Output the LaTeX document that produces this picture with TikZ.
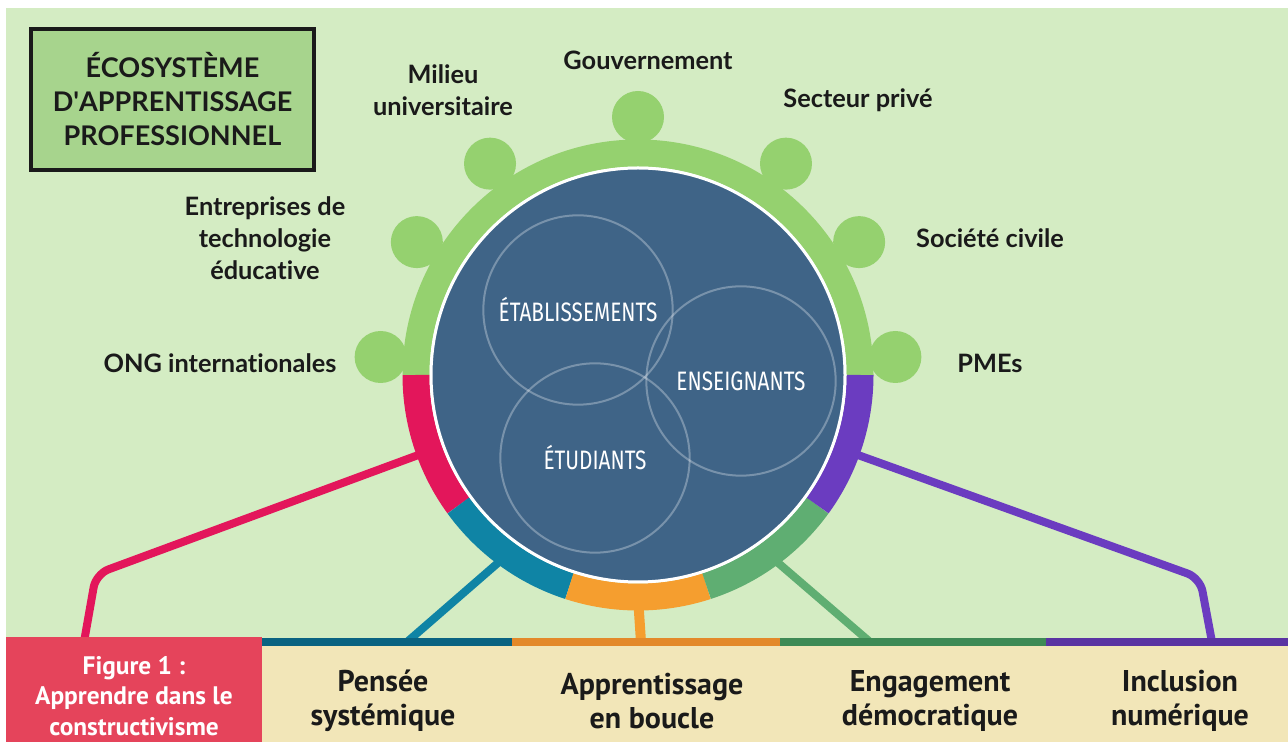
\documentclass[tikz,border=0pt]{standalone}
\usepackage{fontspec}
\setmainfont{Lato}[Ligatures={TeX,NoCommon}]
\newfontfamily\barfont{PT Sans}
\newfontfamily\condfont[FakeStretch=0.78]{Fira Sans}
\usetikzlibrary{positioning, calc}

\definecolor{bggreen}{HTML}{D4ECC3}
\definecolor{ringgreen}{HTML}{95D16F}
\definecolor{titlegreen}{HTML}{A7D48D}
\definecolor{hubblue}{HTML}{3F6487}
\definecolor{segred}{HTML}{E3165B}
\definecolor{segteal}{HTML}{0F84A5}
\definecolor{segorange}{HTML}{F59E2F}
\definecolor{seggreen}{HTML}{5FAE72}
\definecolor{segpurple}{HTML}{6B3CC0}
\definecolor{barteal}{HTML}{0A6381}
\definecolor{barorange}{HTML}{E3892A}
\definecolor{bargreen}{HTML}{3E8A55}
\definecolor{barpurple}{HTML}{5A34A2}
\definecolor{baryellow}{HTML}{F2E6B8}
\definecolor{figred}{HTML}{E5445B}
\definecolor{inktext}{HTML}{1A1A1A}

\tikzset{x=0.75pt, y=0.75pt, % one unit is one pixel of the page
        outerlabel/.style={ % the partners round the ring
            font=\bfseries\fontsize{19}{24}\selectfont,
            align=center,
            text=inktext},
        titlebox/.style={ % box in the top left corner
            draw=inktext, line width=3pt,
            fill=titlegreen,
            minimum width=212pt, minimum height=106pt,
            font=\bfseries\fontsize{20.3}{25.5}\selectfont,
            align=center, text=inktext},
        venn/.style={ % the three overlapping circles
            circle, draw=white, draw opacity=0.3, line width=1.5pt,
            minimum size=142pt,
            font=\condfont\fontsize{20}{22}\selectfont,
            text=white},
        ring/.style={line width=20.25pt}, % thick band round the hub
        link/.style={line width=6pt, line cap=round}, % lines down to the bar
        barlabel/.style={ % themes along the bottom
            font=\barfont\bfseries\fontsize{22.5}{25.5}\selectfont,
            align=center, text=inktext}
        }

\begin{document}
\begin{tikzpicture}
    \useasboundingbox (0,0) rectangle (1288,742);
    \fill[bggreen] (6,0) rectangle (1288,734);
    \coordinate (c) at (638,367);

    % ends of the connectors
    \coordinate (redTop) at ($(c)+(200:222)$);
    \coordinate (redBend) at (96,168);
    \coordinate (redFoot) at (84,100);
    \coordinate (tealTop) at ($(c)+(234:222)$);
    \coordinate (tealFoot) at (407,100);
    \coordinate (orangeTop) at ($(c)+(270:222)$);
    \coordinate (orangeFoot) at (641,100);
    \coordinate (greenTop) at ($(c)+(306:222)$);
    \coordinate (greenFoot) at (870,100);
    \coordinate (purpleTop) at ($(c)+(340:222)$);
    \coordinate (purpleBend) at (1200,164);
    \coordinate (purpleFoot) at (1212,100);

    \draw[link, segred, rounded corners=10pt] (redTop) -- (redBend) -- (redFoot);
    \draw[link, segteal] (tealTop) -- (tealFoot);
    \draw[link, segorange, line width=7.5pt] (orangeTop) -- (orangeFoot);
    \draw[link, seggreen] (greenTop) -- (greenFoot);
    \draw[link, segpurple, rounded corners=10pt] (purpleTop) -- (purpleBend) -- (purpleFoot);

    % bottom bar
    \fill[baryellow] (262,0) rectangle (1288,96);
    \foreach \col/\xa/\xb in {barteal/262/512, barorange/512/780, bargreen/780/1046, barpurple/1046/1288}
        \fill[\col] (\xa,96) rectangle (\xb,104);
    \fill[figred] (6,0) rectangle (262,105);

    % ring, bumps and hub
    \foreach \ang in {4,31,55,90,125,149,176}
        \fill[ringgreen] ($(c)+(\ang:258)$) circle[radius=26];
    \draw[ring, ringgreen] ($(c)+(0:222)$) arc[start angle=0, end angle=180, radius=222];
    \foreach \segcol [count=\i from 0] in {segred,segteal,segorange,seggreen,segpurple}
        \draw[ring, \segcol] ($(c)+({180+36*\i}:222)$) arc[start angle={180+36*\i}, delta angle=36, radius=222];
    \draw[fill=hubblue, draw=white, line width=2.25pt] (c) circle[radius=207];

    \node[venn] (etab) at (578,432) {ÉTABLISSEMENTS};
    \node[venn] (ens) at (741,361) {ENSEIGNANTS};
    \node[venn] (etud) at (595,284) {ÉTUDIANTS};

    \node[titlebox] (title) at (172.5,642.5) {ÉCOSYSTÈME\\D\textquotesingle APPRENTISSAGE\\PROFESSIONNEL};

    \node[outerlabel] (gouv) at (648,682) {Gouvernement};
    \node[outerlabel] (milieu) at (443,652) {Milieu\\universitaire};
    \node[outerlabel] (prive) at (858,642) {Secteur privé};
    \node[outerlabel] (edtech) at (265,504) {Entreprises de\\technologie\\éducative};
    \node[outerlabel] (civile) at (990,504) {Société civile};
    \node[outerlabel] (ong) at (220,379) {ONG internationales};
    \node[outerlabel] (pme) at (990,379) {PMEs};

    \node[barlabel, text=white, font=\barfont\bfseries\fontsize{19}{23}\selectfont] (fig) at (134,46) {Figure 1 :\\Apprendre dans le\\constructivisme};
    \node[barlabel] (pensee) at (383,41) {Pensée\\systémique};
    \node[barlabel] (boucle) at (652,41) {Apprentissage\\en boucle};
    \node[barlabel] (engag) at (930,41) {Engagement\\démocratique};
    \node[barlabel] (inclus) at (1180,41) {Inclusion\\numérique};
\end{tikzpicture}
\end{document}
